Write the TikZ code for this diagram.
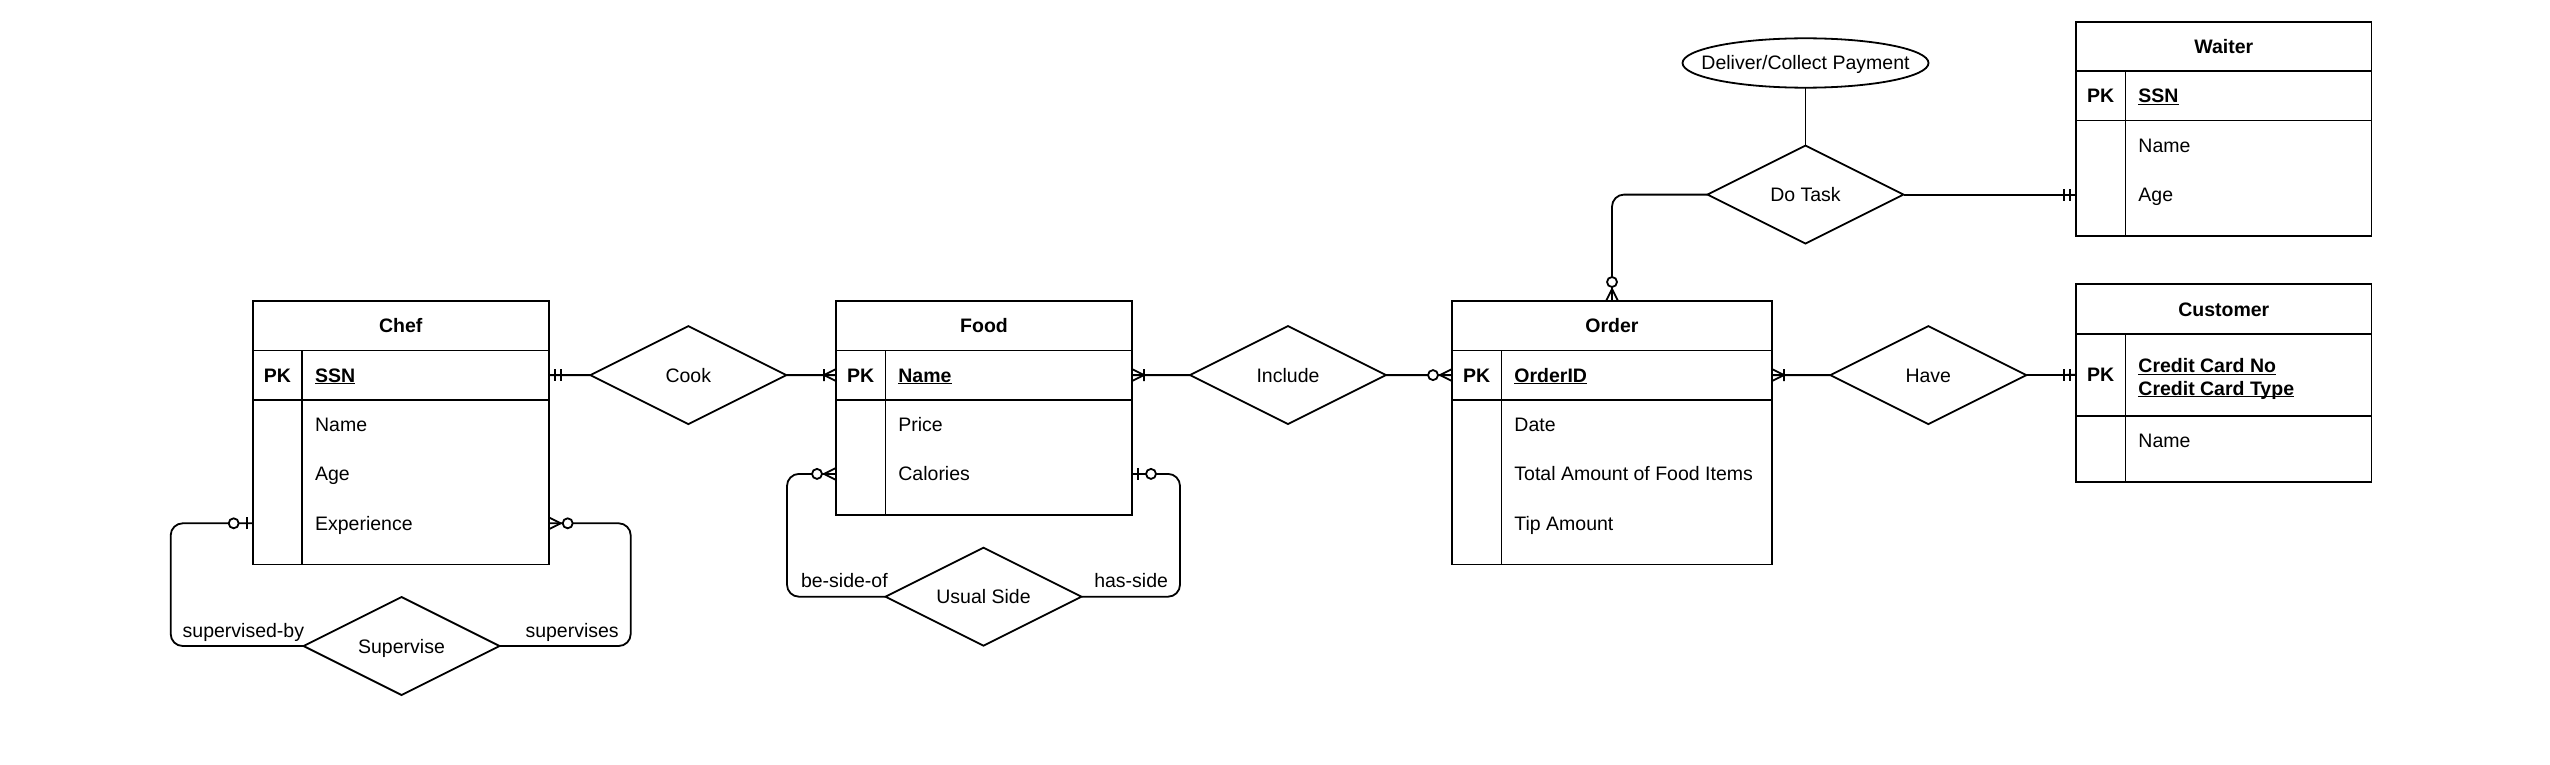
\documentclass[tikz,border=0pt]{standalone}
\usepackage{fontspec}
\setmainfont{Liberation Sans}
\usetikzlibrary{shapes.geometric, calc}

\newcommand{\erfont}{\fontsize{19.5}{22.7}\selectfont}
\newcommand{\pkey}[1]{\underline{\smash{#1}}}

\tikzset{
	hdr/.style={draw, font=\erfont\bfseries, minimum height=49.4, inner sep=0pt, anchor=north west},
	pkcell/.style={draw, font=\erfont\bfseries, minimum width=49.4, minimum height=49.4, inner sep=0pt, anchor=north west},
	keycell/.style={draw, font=\erfont\bfseries, minimum height=49.4, inner xsep=13, inner ysep=0pt, align=left, anchor=north west},
	attcell/.style={draw, inner sep=0pt, anchor=north west},
	attr/.style={anchor=west, inner sep=0pt},
	keyattr/.style={attr, font=\erfont\bfseries},
	rel/.style={draw, diamond, aspect=2, minimum width=196, minimum height=98, inner sep=0pt},
	role/.style={inner sep=0pt},
	link/.style={rounded corners=12},
	mone/.pic={\draw (6,-6) -- (6,6) (12,-6) -- (12,6);},
	onemany/.pic={\draw (0,-6) -- (12,0) -- (0,6) (12,-6) -- (12,6);},
	zeromany/.pic={\draw (0,-6) -- (12,0) -- (0,6); \draw[fill=white] (19,0) circle[radius=5];},
	zeroone/.pic={\draw (6,-6) -- (6,6); \draw[fill=white] (19,0) circle[radius=5];}
}

\begin{document}
\begin{tikzpicture}[x=1pt, y=-1pt, line width=1.8pt, font=\erfont,
	every node/.append style={outer sep=0pt, text height=14, text depth=0}]
	\useasboundingbox[fill=white] (0,0) rectangle (2550,765);

	\node[hdr, minimum width=296] (chef) at (252.7,301) {Chef};
	\node[pkcell] (chefpk) at (chef.south west) {PK};
	\node[keycell, text width=220.6] (chefssn) at (chefpk.north east) {\pkey{SSN}};
	\node[pkcell, minimum height=164.7] (chefgap) at (chefpk.south west) {};
	\node[attcell, minimum width=246.6, minimum height=164.7] (chefatt) at (chefgap.north east) {};
	\node[attr] (chefname) at ($(chefatt.north west)+(13,24.7)$) {Name};
	\node[attr] (chefage) at ($(chefatt.north west)+(13,74.1)$) {Age};
	\node[attr] (chefexp) at ($(chefatt.north west)+(13,123.5)$) {Experience};

	\node[hdr, minimum width=296] (food) at (836,301) {Food};
	\node[pkcell] (foodpk) at (food.south west) {PK};
	\node[keycell, text width=220.6] (foodkey) at (foodpk.north east) {\pkey{Name}};
	\node[pkcell, minimum height=115.3] (foodgap) at (foodpk.south west) {};
	\node[attcell, minimum width=246.6, minimum height=115.3] (foodatt) at (foodgap.north east) {};
	\node[attr] (foodprice) at ($(foodatt.north west)+(13,24.7)$) {Price};
	\node[attr] (foodcal) at ($(foodatt.north west)+(13,74.1)$) {Calories};

	\node[hdr, minimum width=320] (order) at (1452,301) {Order};
	\node[pkcell] (orderpk) at (order.south west) {PK};
	\node[keycell, text width=244.6] (orderid) at (orderpk.north east) {\pkey{OrderID}};
	\node[pkcell, minimum height=164.7] (ordergap) at (orderpk.south west) {};
	\node[attcell, minimum width=270.6, minimum height=164.7] (orderatt) at (ordergap.north east) {};
	\node[attr] (orderdate) at ($(orderatt.north west)+(13,24.7)$) {Date};
	\node[attr] (ordertotal) at ($(orderatt.north west)+(13,74.1)$) {Total Amount of Food Items};
	\node[attr] (ordertip) at ($(orderatt.north west)+(13,123.5)$) {Tip Amount};

	\node[hdr, minimum width=295.5] (cust) at (2076,284.3) {Customer};
	\node[pkcell, minimum height=82.3] (custpk) at (cust.south west) {PK};
	\node[keycell, text width=220.1, minimum height=82.3] (custcard) at (custpk.north east) {};
	\node[keyattr] (custno) at ($(custcard.north west)+(13,32)$) {\pkey{Credit Card No}};
	\node[keyattr] (custtype) at ($(custcard.north west)+(13,54.5)$) {\pkey{Credit Card Type}};
	\node[pkcell, minimum height=65.9] (custgap) at (custpk.south west) {};
	\node[attcell, minimum width=246.1, minimum height=65.9] (custatt) at (custgap.north east) {};
	\node[attr] (custname) at ($(custatt.north west)+(13,24.7)$) {Name};

	\node[hdr, minimum width=295.5] (waiter) at (2076,21.7) {Waiter};
	\node[pkcell] (waiterpk) at (waiter.south west) {PK};
	\node[keycell, text width=220.1] (waiterssn) at (waiterpk.north east) {\pkey{SSN}};
	\node[pkcell, minimum height=115.3] (waitergap) at (waiterpk.south west) {};
	\node[attcell, minimum width=246.1, minimum height=115.3] (waiteratt) at (waitergap.north east) {};
	\node[attr] (waitername) at ($(waiteratt.north west)+(13,24.7)$) {Name};
	\node[attr] (waiterage) at ($(waiteratt.north west)+(13,74.1)$) {Age};

	\node[rel] (cook) at (688.3,375.1) {Cook};
	\node[rel] (include) at (1288,375.1) {Include};
	\node[rel] (have) at (1928.3,375.1) {Have};
	\node[rel] (dotask) at (1805.5,194.6) {Do Task};
	\node[rel] (usual) at (983.5,596.7) {Usual Side};
	\node[rel] (supervise) at (401.5,646) {Supervise};
	\node[draw, ellipse, minimum width=246, minimum height=49.4, inner xsep=-20, inner ysep=0pt] (payment) at (1805.5,63) {Deliver/Collect Payment};

	\draw (chefssn.east) -- (cook.west);
	\draw (cook.east) -- (foodpk.west);
	\draw (foodkey.east) -- (include.west);
	\draw (include.east) -- (orderpk.west);
	\draw (orderid.east) -- (have.west);
	\draw (have.east) -- (custpk.west);
	\draw (payment.south) -- (dotask.north);
	\draw (dotask.east) -- (dotask.east -| waitergap.west);
	\draw[link] (dotask.west) -| (order.north);
	\draw[link] (supervise.west) -| ($(chefgap.west |- chefexp)+(-82,0)$) -- (chefgap.west |- chefexp);
	\draw[link] (supervise.east) -| ($(chefatt.east |- chefexp)+(82,0)$) -- (chefatt.east |- chefexp);
	\draw[link] (usual.west) -| ($(foodgap.west |- foodcal)+(-49,0)$) -- (foodgap.west |- foodcal);
	\draw[link] (usual.east) -| ($(foodatt.east |- foodcal)+(48,0)$) -- (foodatt.east |- foodcal);

	\pic at (chefssn.east) {mone};
	\pic[rotate=180] at (foodpk.west) {onemany};
	\pic at (foodkey.east) {onemany};
	\pic[rotate=180] at (orderpk.west) {zeromany};
	\pic at (orderid.east) {onemany};
	\pic[rotate=180] at (custpk.west) {mone};
	\pic[rotate=180] at (dotask.east -| waitergap.west) {mone};
	\pic[rotate=90] at (order.north) {zeromany};
	\pic[rotate=180] at (chefgap.west |- chefexp) {zeroone};
	\pic at (chefatt.east |- chefexp) {zeromany};
	\pic[rotate=180] at (foodgap.west |- foodcal) {zeromany};
	\pic at (foodatt.east |- foodcal) {zeroone};

	\node[role, anchor=south west] (supby) at ($(supervise.west -| chefgap.west)+(-70,-9)$) {supervised-by};
	\node[role, anchor=south east] (sups) at ($(supervise.east -| chefatt.east)+(70,-9)$) {supervises};
	\node[role, anchor=south west] (besideof) at ($(usual.west -| foodgap.west)+(-35,-9)$) {be-side-of};
	\node[role, anchor=south east] (hasside) at ($(usual.east -| foodatt.east)+(36,-9)$) {has-side};
\end{tikzpicture}
\end{document}
